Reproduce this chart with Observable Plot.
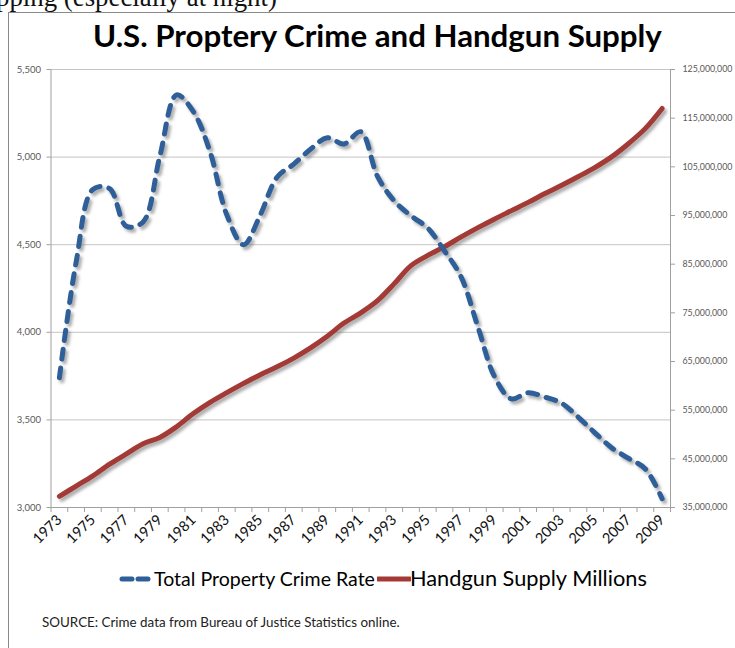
<!DOCTYPE html>
<html><head><meta charset="utf-8">
<script src="https://cdn.jsdelivr.net/npm/d3@7"></script>
<script src="https://cdn.jsdelivr.net/npm/@observablehq/plot@0.6"></script>
<style>
html,body{margin:0;padding:0;background:#fff;}
body{width:735px;height:648px;overflow:hidden;position:relative;font-family:Lato,"Open Sans",sans-serif;}
#toptext{position:absolute;left:-4px;white-space:nowrap;color:#111;font-family:"Liberation Serif",serif;line-height:1;}
#frame{position:absolute;left:8px;top:12px;width:900px;height:900px;border-left:1.5px solid #8a8a8a;border-top:1.5px solid #8a8a8a;}
.t{position:absolute;white-space:nowrap;line-height:1;}
#title{font-weight:700;color:#000;}
.leg{color:#000;}
#source{color:#222;}
#chart{position:absolute;left:0;top:0;}
.sw{position:absolute;}
</style>
</head><body>
<div id="toptext">pping (especially at night)</div>
<div id="frame"></div>
<div id="title" class="t">U.S. Proptery Crime and Handgun Supply</div>
<div id="chart"></div>
<svg class="sw" id="sw1" width="36" height="10"></svg>
<div id="leg1" class="t leg">Total Property Crime Rate</div>
<svg class="sw" id="sw2" width="34" height="10"></svg>
<div id="leg2" class="t leg">Handgun Supply Millions</div>
<div id="source" class="t">SOURCE: Crime data from Bureau of Justice Statistics online.</div>
<script>
// ---- data ----
const years = [1973,1974,1975,1976,1977,1978,1979,1980,1981,1982,1983,1984,1985,1986,1987,1988,1989,1990,1991,1992,1993,1994,1995,1996,1997,1998,1999,2000,2001,2002,2003,2004,2005,2006,2007,2008,2009];
const crimeRate = [3740,4400,4815,4820,4605,4630,5005,5355,5260,5030,4670,4500,4670,4885,4960,5045,5110,5075,5145,4890,4750,4665,4595,4465,4315,4030,3745,3620,3655,3630,3595,3515,3425,3340,3280,3220,3050];
const handgunMillions = [37.3,39.4,41.5,43.9,46.0,48.1,49.4,51.6,54.3,56.6,58.6,60.5,62.3,63.9,65.7,67.8,70.2,72.9,75.0,77.5,81.0,84.7,86.8,88.6,90.6,92.5,94.3,96.0,97.7,99.5,101.2,103.0,104.9,107.1,109.8,112.9,117.0];
const leftTicks = [3000,3500,4000,4500,5000,5500];
const rightTicks = [35000000,45000000,55000000,65000000,75000000,85000000,95000000,105000000,115000000,125000000];
const xLabelYears = [1973,1975,1977,1979,1981,1983,1985,1987,1989,1991,1993,1995,1997,1999,2001,2003,2005,2007,2009];
const seriesNames = ["Total Property Crime Rate","Handgun Supply Millions"];
const titleText = "U.S. Proptery Crime and Handgun Supply";

// ---- styles ----
const BLUE = "#2f5f98", RED = "#a33a35", SHADOW = "#6a6a6a";
const GRID = "#c4c4c4", AXIS = "#a0a0a0", LABEL = "#595959";

// secondary axis mapped onto primary scale
const L0 = leftTicks[0], L1 = leftTicks[leftTicks.length-1];
const R0 = rightTicks[0], R1 = rightTicks[rightTicks.length-1];
const toLeft = v => L0 + (v - R0) / (R1 - R0) * (L1 - L0);
const rightPos = rightTicks.map(toLeft);

const data = years.map((y,i) => ({year:y, crime:crimeRate[i], gun:toLeft(handgunMillions[i]*1e6)}));
const x0 = years[0]-0.5, x1 = years[years.length-1]+0.5;
const bounds = years.map(y => y-0.5).concat([x1]);
const fmt = d3.format(",");
const dash = "10,9";

const plot = Plot.plot({
  width:735, height:560,
  marginLeft:50.5, marginRight:65, marginTop:69, marginBottom:53,
  x:{type:"linear", domain:[x0,x1]},
  y:{domain:[L0,L1]},
  style:{fontFamily:"Lato, 'Open Sans', sans-serif", background:"transparent", overflow:"visible"},
  marks:[
    Plot.ruleY(leftTicks, {stroke:GRID, strokeWidth:1}),
    Plot.ruleX([x0, x1], {stroke:AXIS, strokeWidth:1}),
    Plot.ruleY([L0], {stroke:AXIS, strokeWidth:1}),
    Plot.axisY({ticks:leftTicks, tickSize:4, tickPadding:6, tickFormat:fmt, label:null, stroke:AXIS, fill:LABEL, fontSize:9.5}),
    Plot.axisY({anchor:"right", ticks:rightPos, tickSize:4, tickPadding:8, label:null, stroke:AXIS, fill:LABEL, fontSize:8.8,
      tickFormat: d => fmt(rightTicks[rightPos.indexOf(d)])}),
    Plot.axisX({ticks:bounds, tickSize:5, tickFormat:() => "", label:null, stroke:AXIS}),
    Plot.axisX({ticks:xLabelYears, tickSize:0, tickPadding:10, tickRotate:-45, tickFormat:d => String(d), label:null, fill:"#111", fontSize:14.5}),
    // shadows
    Plot.line(data, {x:"year", y:"gun", stroke:SHADOW, strokeOpacity:0.55, strokeWidth:5, dx:2.5, dy:3, curve:"catmull-rom"}),
    Plot.line(data, {x:"year", y:"crime", stroke:SHADOW, strokeOpacity:0.55, strokeWidth:5, dx:2.5, dy:3, strokeDasharray:dash, strokeLinecap:"round", curve:"catmull-rom"}),
    // series
    Plot.line(data, {x:"year", y:"gun", stroke:RED, strokeWidth:5, curve:"catmull-rom"}),
    Plot.line(data, {x:"year", y:"crime", stroke:BLUE, strokeWidth:5, strokeDasharray:dash, strokeLinecap:"round", curve:"catmull-rom"})
  ]
});
document.getElementById("chart").appendChild(plot);

// blur shadows
const svg = d3.select(plot);
svg.insert("defs", ":first-child").html('<filter id="blur" x="-5%" y="-5%" width="110%" height="110%"><feGaussianBlur stdDeviation="1.4"/></filter>');
svg.selectAll(`g[stroke="${SHADOW}"]`).attr("filter","url(#blur)");

// ---- text layout helpers ----
function fit(id, width, cy, left, center){
  const el = document.getElementById(id);
  el.style.fontSize = "20px";
  const w = el.getBoundingClientRect().width;
  const fs = 20*width/w;
  el.style.fontSize = fs+"px";
  el.style.top = (cy - fs/2)+"px";
  el.style.left = (center ? left - width/2 : left)+"px";
  return fs;
}
document.getElementById("title").textContent = titleText;
fit("title", 569, 35.5, 377.5, true);
fit("leg1", 221, 579, 154);
fit("leg2", 237, 579, 410);
fit("source", 358, 623, 42);
// top cut-off text
(function(){
  const el = document.getElementById("toptext");
  el.style.fontSize = "20px";
  const w = el.getBoundingClientRect().width;
  const fs = 20*281/w;
  el.style.fontSize = fs+"px";
  el.style.top = (6 - 0.8375*fs)+"px";
})();

// legend swatches
const s1 = d3.select("#sw1").style("left","119px").style("top","574px");
s1.append("line").attr("x1",3).attr("x2",33).attr("y1",5).attr("y2",5)
  .attr("stroke",BLUE).attr("stroke-width",5).attr("stroke-linecap","round").attr("stroke-dasharray","10,6");
const s2 = d3.select("#sw2").style("left","377px").style("top","574px");
s2.append("line").attr("x1",1).attr("x2",33).attr("y1",5).attr("y2",5)
  .attr("stroke",RED).attr("stroke-width",5).attr("stroke-linecap","round");
</script>
</body></html>
